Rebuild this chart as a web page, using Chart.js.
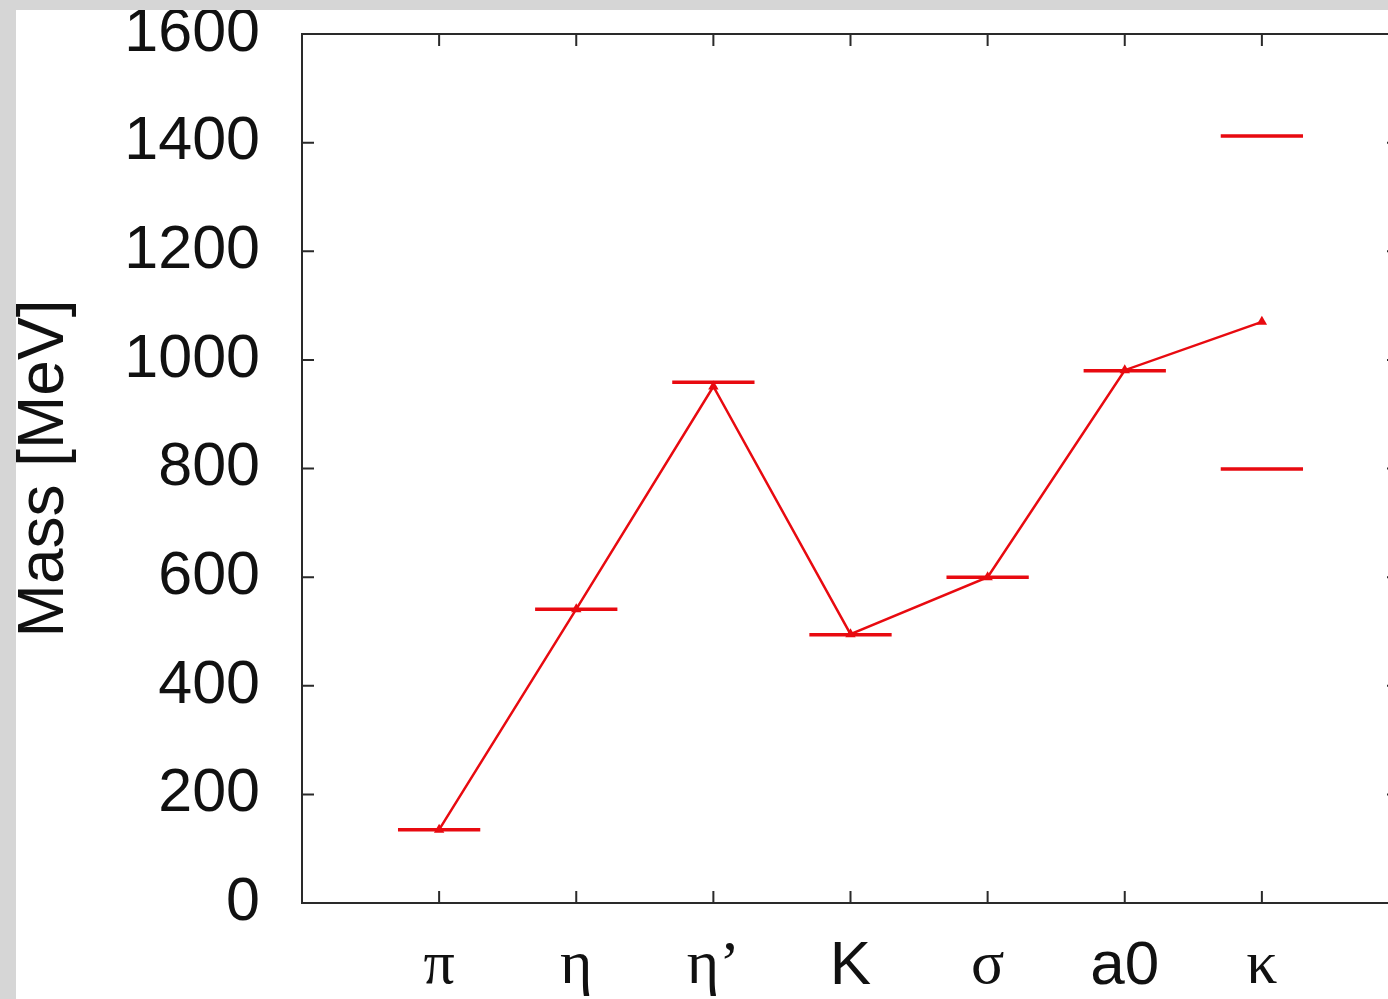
<!DOCTYPE html>
<html>
<head>
<meta charset="utf-8">
<script src="https://cdn.jsdelivr.net/npm/chart.js@4"></script>
<style>
  html, body { margin: 0; padding: 0; overflow: hidden; background: #d6d6d6; }
  #cadre { position: absolute; left: 16px; top: 10px; width: 1400px; height: 989px; background: #fff; }
</style>
</head>
<body>
<div id="cadre"><canvas id="graphique"></canvas></div>
<script>
// particules sur l'axe x
const particules = ['π', 'η', 'η’', 'K', 'σ', 'a0', 'κ'];
const grecques = [true, true, true, false, true, false, true];
// masses calculees (ligne avec triangles)
const masseModele = [135, 541, 951, 495, 600, 981, 1070];
// masses experimentales (traits horizontaux), position sur l'axe x
const positionExp = [1, 2, 3, 4, 5, 6, 7, 7];
const masseExp = [135, 541, 959, 494, 600, 980, 1412, 799];
// graduations de l'axe y
const ticksY = [0, 200, 400, 600, 800, 1000, 1200, 1400, 1600];

const rouge = 'rgb(232,10,16)';
const demiLargeur = 0.3;

//construit les traits experimentaux, separes par des trous
function getTraits(positions, masses){
  let data = [];
  positions.forEach((p, i) => {
    data.push({x: p - demiLargeur, y: masses[i]});
    data.push({x: p + demiLargeur, y: masses[i]});
    data.push({x: p, y: null});
  });
  return data;
}

//cadre et graduations vers l'interieur, comme gnuplot
const cadrePlugin = {
  id: 'cadre',
  beforeDatasetsDraw(chart){
    const {ctx, chartArea: a, scales} = chart;
    const lg = 12;
    ctx.save();
    ctx.strokeStyle = '#2a2a2a';
    ctx.lineWidth = 2;
    ctx.strokeRect(a.left, a.top, a.right - a.left, a.bottom - a.top);
    ctx.beginPath();
    scales.y.ticks.forEach(t => {
      const y = scales.y.getPixelForValue(t.value);
      ctx.moveTo(a.left, y); ctx.lineTo(a.left + lg, y);
      ctx.moveTo(a.right, y); ctx.lineTo(a.right - lg, y);
    });
    scales.x.ticks.forEach(t => {
      const x = scales.x.getPixelForValue(t.value);
      ctx.moveTo(x, a.bottom); ctx.lineTo(x, a.bottom - lg);
      ctx.moveTo(x, a.top); ctx.lineTo(x, a.top + lg);
    });
    ctx.stroke();
    ctx.restore();
  }
};

new Chart(document.getElementById('graphique'), {
  type: 'scatter',
  data: {
    datasets: [{
      label: 'modele',
      data: masseModele.map((m, i) => ({x: i + 1, y: m})),
      showLine: true,
      borderColor: rouge,
      backgroundColor: rouge,
      borderWidth: 2.5,
      pointStyle: 'triangle',
      pointRadius: 6,
      pointBorderWidth: 0
    }, {
      label: 'experience',
      data: getTraits(positionExp, masseExp),
      showLine: true,
      spanGaps: false,
      borderColor: rouge,
      borderWidth: 3.5,
      pointRadius: 0
    }]
  },
  options: {
    responsive: true,
    maintainAspectRatio: false,
    animation: false,
    layout: { padding: { top: 24, right: 17, left: 0, bottom: 0 } },
    plugins: { legend: { display: false }, tooltip: { enabled: false } },
    scales: {
      x: {
        type: 'linear',
        min: 0, max: 8,
        grid: { display: false, drawTicks: false },
        border: { display: false },
        afterBuildTicks: (scale) => { scale.ticks = [1,2,3,4,5,6,7].map(v => ({value: v})); },
        ticks: {
          padding: 27,
          color: '#111',
          maxRotation: 0,
          autoSkip: false,
          callback: (v) => particules[v - 1] || '',
          font: (ctx) => ({
            family: grecques[ctx.index] ? '"Liberation Serif", "DejaVu Serif", serif' : '"Liberation Sans", Arial, sans-serif',
            size: 62,
            lineHeight: 1.2
          })
        },
        afterFit: (scale) => { scale.height = 96; scale.paddingLeft = 0; scale.paddingRight = 0; }
      },
      y: {
        min: 0, max: 1600,
        grid: { display: false, drawTicks: false },
        border: { display: false },
        afterBuildTicks: (scale) => { scale.ticks = ticksY.map(v => ({value: v})); },
        ticks: {
          padding: 42,
          color: '#111',
          callback: (v) => String(v),
          font: { family: '"Liberation Sans", Arial, sans-serif', size: 61, lineHeight: 1.2 }
        },
        title: {
          display: true,
          text: 'Mass [MeV]',
          color: '#111',
          font: { family: '"Liberation Sans", Arial, sans-serif', size: 64, lineHeight: 1 },
          padding: { top: -3, bottom: 0 }
        },
        afterFit: (scale) => { scale.width = 286; scale.paddingTop = 0; scale.paddingBottom = 0; }
      }
    }
  },
  plugins: [cadrePlugin]
});
</script>
</body>
</html>
